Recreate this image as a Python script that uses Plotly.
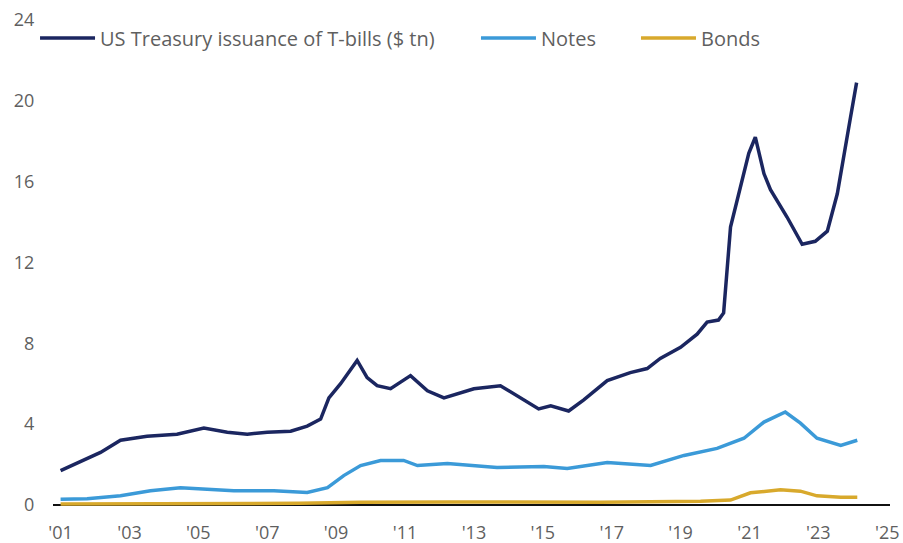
import plotly.graph_objects as go

# US Treasury issuance, $ tn (decimal years)
bills_x = [2001.0, 2002.16, 2002.74, 2003.51, 2004.38, 2005.16, 2005.84, 2006.42, 2007.0,
           2007.68, 2008.16, 2008.55, 2008.79, 2009.13, 2009.61, 2009.9, 2010.19, 2010.58,
           2011.16, 2011.65, 2012.13, 2013.0, 2013.77, 2014.26, 2014.88, 2015.23, 2015.75,
           2016.19, 2016.87, 2017.54, 2018.03, 2018.41, 2019.0, 2019.48, 2019.77, 2020.1,
           2020.25, 2020.45, 2020.69, 2020.98, 2021.17, 2021.42, 2021.61, 2022.09, 2022.53,
           2022.91, 2023.26, 2023.55, 2023.93, 2024.11]
bills_y = [1.7, 2.6, 3.2, 3.4, 3.5, 3.8, 3.6, 3.5, 3.6,
           3.65, 3.9, 4.25, 5.3, 6.0, 7.15, 6.3, 5.9, 5.75,
           6.4, 5.65, 5.3, 5.75, 5.9, 5.4, 4.75, 4.9, 4.65,
           5.2, 6.15, 6.55, 6.75, 7.25, 7.8, 8.45, 9.05, 9.15,
           9.5, 13.75, 15.45, 17.4, 18.2, 16.4, 15.6, 14.25, 12.9,
           13.05, 13.55, 15.4, 19.15, 20.9]

notes_x = [2001.0, 2001.77, 2002.74, 2003.61, 2004.48, 2005.25, 2006.03, 2007.19, 2008.16,
           2008.75, 2009.22, 2009.71, 2010.29, 2010.96, 2011.36, 2012.23, 2013.67, 2015.03,
           2015.71, 2016.87, 2018.13, 2019.1, 2020.06, 2020.84, 2021.42, 2022.04, 2022.48,
           2022.96, 2023.65, 2024.13]
notes_y = [0.28, 0.3, 0.45, 0.7, 0.85, 0.78, 0.7, 0.7, 0.62,
           0.85, 1.45, 1.95, 2.2, 2.2, 1.95, 2.05, 1.85, 1.9,
           1.8, 2.1, 1.95, 2.45, 2.8, 3.3, 4.1, 4.6, 4.05,
           3.3, 2.95, 3.2]

bonds_x = [2001.0, 2005.06, 2007.93, 2009.71, 2012.32, 2016.67, 2019.58, 2020.45, 2021.03,
           2021.9, 2022.48, 2022.96, 2023.65, 2024.13]
bonds_y = [0.05, 0.06, 0.08, 0.13, 0.15, 0.13, 0.18, 0.24, 0.6,
           0.75, 0.68, 0.45, 0.38, 0.38]

tick_years = list(range(2001, 2026, 2))
tick_text = ["'%02d" % (y % 100) for y in tick_years]
y_ticks = [0, 4, 8, 12, 16, 20, 24]

NAVY = "#1b2660"
BLUE = "#3b9ad8"
GOLD = "#d8a92c"
GREY = "#5f5f5f"
FONT = dict(family="Open Sans, sans-serif", size=18, color=GREY)

fig = go.Figure()
fig.add_trace(go.Scatter(x=bills_x, y=bills_y, mode="lines", name="US Treasury issuance of T-bills ($ tn)",
                         line=dict(color=NAVY, width=3.5), legend="legend"))
fig.add_trace(go.Scatter(x=notes_x, y=notes_y, mode="lines", name="Notes",
                         line=dict(color=BLUE, width=3.5), legend="legend2"))
fig.add_trace(go.Scatter(x=bonds_x, y=bonds_y, mode="lines", name="Bonds",
                         line=dict(color=GOLD, width=3.5), legend="legend3"))

# one legend per series so each entry sits where the reference has it
leg = dict(xref="container", yref="container", yanchor="middle", y=0.930, xanchor="left",
           bgcolor="rgba(0,0,0,0)", itemwidth=55,
           font=dict(family="Open Sans, sans-serif", size=20, color=GREY))

fig.update_layout(
    width=903, height=543,
    paper_bgcolor="white", plot_bgcolor="white",
    font=FONT,
    margin=dict(l=53, r=13, t=16, b=30, autoexpand=False),
    showlegend=True,
    legend=dict(leg, x=0.0388),
    legend2=dict(leg, x=0.5271),
    legend3=dict(leg, x=0.7043),
    xaxis=dict(range=[2000.78, 2025.08], tickvals=tick_years, ticktext=tick_text,
               showgrid=False, zeroline=False, showline=False, automargin=False,
               ticklabeloverflow="allow",
               ticks="outside", ticklen=3, tickcolor="rgba(0,0,0,0)"),
    yaxis=dict(range=[-0.4, 24.2], tickvals=y_ticks,
               showgrid=False, zeroline=True, zerolinecolor="#111111", zerolinewidth=1.5,
               showline=False, automargin=False, ticklabeloverflow="allow",
               ticks="outside", ticklen=14, tickcolor="rgba(0,0,0,0)"),
)

# drop the default 8px page margin so the figure fills the window exactly
fig.write_html("out.html", config={"displayModeBar": False},
               post_script="document.body.style.margin='0';document.body.style.overflow='hidden';")
